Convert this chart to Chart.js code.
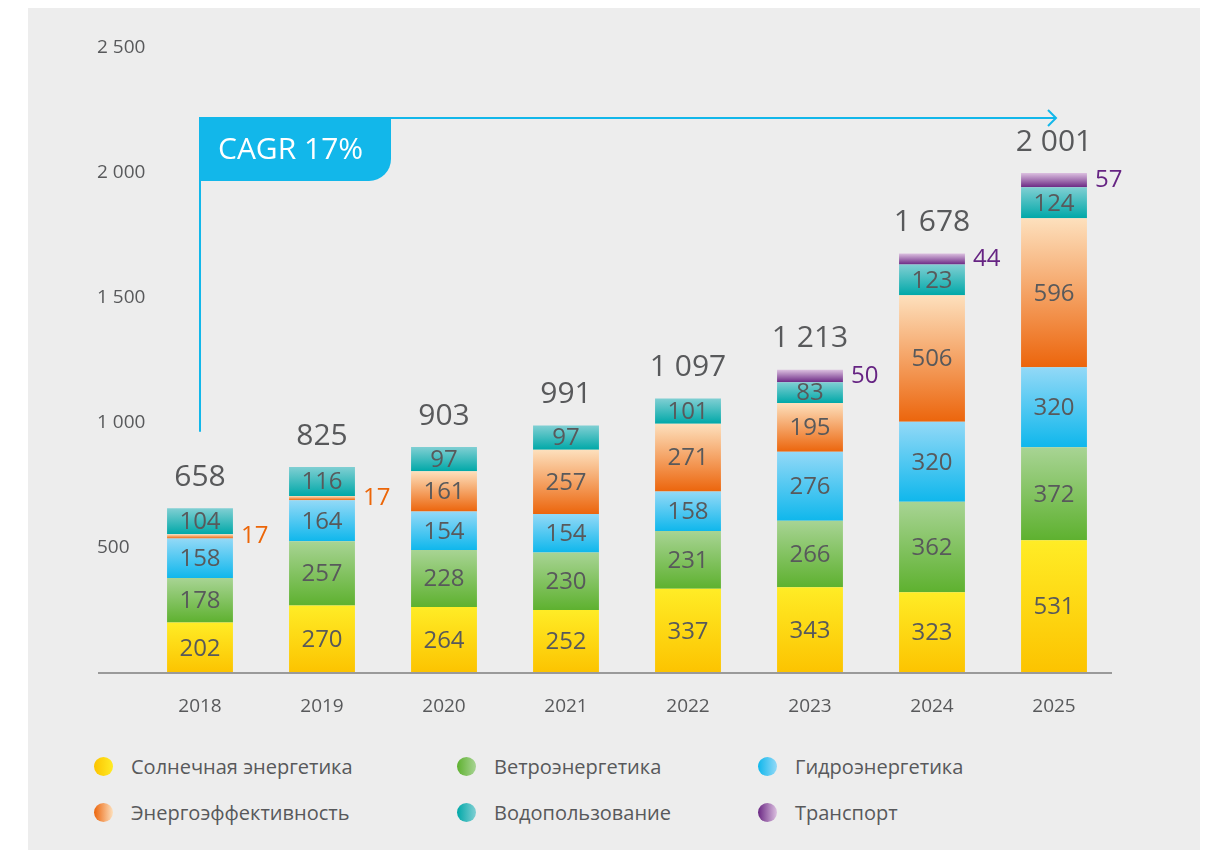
<!DOCTYPE html>
<html lang="ru">
<head>
<meta charset="utf-8">
<script src="https://cdn.jsdelivr.net/npm/chart.js@4"></script>
<style>
  body { margin: 0; background: #fff; font-family: "Open Sans", sans-serif; }
  #panel { position: absolute; left: 28px; top: 8px; width: 1172px; height: 842px; background: #ededed; }
  #wrap { position: absolute; left: 0; top: 0; width: 1172px; height: 725px; }
  #legend { position: absolute; left: 66px; top: 735px; display: grid;
    grid-template-columns: 363px 301px 260px; grid-auto-rows: 46px; }
  .item { display: flex; align-items: center; color: #58595b; font-size: 20px; }
  .dot { width: 19px; height: 19px; border-radius: 50%; margin-right: 18px; flex: none; }
</style>
</head>
<body>
<div id="panel">
  <div id="wrap"><canvas id="chartCagr"></canvas></div>
  <div id="legend"></div>
</div>
<script>
const years = ['2018', '2019', '2020', '2021', '2022', '2023', '2024', '2025'];
const seriesNames = ['Солнечная энергетика', 'Ветроэнергетика', 'Гидроэнергетика',
  'Энергоэффективность', 'Водопользование', 'Транспорт'];
const solar = [202, 270, 264, 252, 337, 343, 323, 531];
const wind = [178, 257, 228, 230, 231, 266, 362, 372];
const hydro = [158, 164, 154, 154, 158, 276, 320, 320];
const efficiency = [17, 17, 161, 257, 271, 195, 506, 596];
const water = [104, 116, 97, 97, 101, 83, 123, 124];
const transport = [0, 0, 0, 0, 0, 50, 44, 57];
const totals = [658, 825, 903, 991, 1097, 1213, 1678, 2001];
const yTicks = [500, 1000, 1500, 2000, 2500];
const cagrLabel = 'CAGR 17%';
const cagrTop = 2220;
const cagrBottom = 965;

// top / bottom colours of every segment gradient
const topColors = ['#ffec26', '#a8d494', '#93d9f7', '#fde0bd', '#80cfd3', '#dcc0e0'];
const bottomColors = ['#fcc300', '#5eb12f', '#0fb7ec', '#ec650c', '#00a8a8', '#6b2884'];
const outsideColors = ['#f0a500', '#5eb12f', '#0fb7ec', '#ec6608', '#00a8a8', '#662483'];
const allSeries = [solar, wind, hydro, efficiency, water, transport];

function fmt(n) {
  return String(n).replace(/\B(?=(\d{3})+(?!\d))/g, ' ');
}

function segmentFill(ctx) {
  const chart = ctx.chart;
  if (!chart.chartArea || ctx.type !== 'data') return bottomColors[ctx.datasetIndex];
  const ds = ctx.datasetIndex, i = ctx.dataIndex;
  let base = 0;
  for (let k = 0; k < ds; k++) base += allSeries[k][i];
  const v = allSeries[ds][i];
  if (!v) return 'rgba(0,0,0,0)';
  const y = chart.scales.y;
  const g = chart.ctx.createLinearGradient(0, y.getPixelForValue(base + v), 0, y.getPixelForValue(base));
  g.addColorStop(0, topColors[ds]);
  g.addColorStop(1, bottomColors[ds]);
  return g;
}

const datasets = allSeries.map((data, k) => ({
  label: seriesNames[k],
  data: data,
  backgroundColor: segmentFill,
  borderWidth: 0,
  barPercentage: 0.54,
  categoryPercentage: 1
}));

const labelsPlugin = {
  id: 'labels',
  afterDatasetsDraw(chart) {
    const c = chart.ctx;
    const x = chart.scales.x, y = chart.scales.y;
    c.save();
    // baseline
    c.strokeStyle = '#9a9a9a';
    c.lineWidth = 2;
    c.beginPath();
    c.moveTo(y.left + 1, y.getPixelForValue(0));
    c.lineTo(chart.chartArea.right - 3, y.getPixelForValue(0));
    c.stroke();

    c.textBaseline = 'middle';
    chart.data.datasets.forEach((d, ds) => {
      const meta = chart.getDatasetMeta(ds);
      meta.data.forEach((bar, i) => {
        const v = d.data[i];
        if (!v) return;
        const cy = (bar.y + bar.base) / 2;
        c.font = '24px "Open Sans"';
        if (v < 60) {
          c.fillStyle = outsideColors[ds];
          c.textAlign = 'left';
          c.fillText(fmt(v), bar.x + bar.width / 2 + 8, cy);
        } else {
          c.fillStyle = '#58595b';
          c.textAlign = 'center';
          c.fillText(fmt(v), bar.x, cy + 1);
        }
      });
    });

    // totals
    c.font = '30px "Open Sans"';
    c.fillStyle = '#58595b';
    c.textAlign = 'center';
    years.forEach((yr, i) => {
      let top = y.getPixelForValue(0);
      chart.data.datasets.forEach((d, ds) => {
        if (d.data[i]) top = Math.min(top, chart.getDatasetMeta(ds).data[i].y);
      });
      c.fillText(fmt(totals[i]), x.getPixelForValue(i), top - 31);
    });

    // CAGR arrow
    const x0 = x.getPixelForValue(0), x1 = x.getPixelForValue(years.length - 1) + 2;
    const yt = y.getPixelForValue(cagrTop), yb = y.getPixelForValue(cagrBottom);
    c.strokeStyle = '#12b7ea';
    c.lineWidth = 2;
    c.beginPath();
    c.moveTo(x0, yb);
    c.lineTo(x0, yt);
    c.lineTo(x1, yt);
    c.stroke();
    c.beginPath();
    c.moveTo(x1 - 8, yt - 8);
    c.lineTo(x1, yt);
    c.lineTo(x1 - 8, yt + 8);
    c.stroke();
    // label box with rounded bottom-right corner
    const bw = 191, bh = 63, r = 22;
    c.fillStyle = '#12b7ea';
    c.beginPath();
    c.moveTo(x0 - 1, yt - 1);
    c.lineTo(x0 + bw, yt - 1);
    c.lineTo(x0 + bw, yt + bh - r);
    c.arcTo(x0 + bw, yt + bh, x0 + bw - r, yt + bh, r);
    c.lineTo(x0 - 1, yt + bh);
    c.closePath();
    c.fill();
    c.fillStyle = '#ffffff';
    c.font = '30px "Open Sans"';
    c.textAlign = 'left';
    c.fillText(cagrLabel, x0 + 18, yt + bh / 2 + 1);
    c.restore();
  }
};

new Chart(document.getElementById('chartCagr'), {
  type: 'bar',
  data: { labels: years, datasets: datasets },
  options: {
    responsive: true,
    maintainAspectRatio: false,
    animation: false,
    layout: { padding: { left: 69, right: 85, top: 40, bottom: 0 } },
    scales: {
      x: {
        stacked: true,
        grid: { display: false, drawTicks: false },
        border: { display: false },
        ticks: { color: '#58595b', padding: 22, font: { family: 'Open Sans', size: 19 } },
        afterFit(axis) { axis.height = 60; }
      },
      y: {
        stacked: true,
        min: 0,
        max: 2500,
        grid: { display: false, drawTicks: false },
        border: { display: false },
        afterBuildTicks(axis) { axis.ticks = yTicks.map(v => ({ value: v })); },
        afterFit(axis) { axis.width = 42; },
        ticks: {
          mirror: true,
          crossAlign: 'near',
          padding: -42,
          color: '#58595b',
          font: { family: 'Open Sans', size: 19 },
          callback: v => fmt(v)
        }
      }
    },
    plugins: { legend: { display: false }, tooltip: { enabled: false } }
  },
  plugins: [labelsPlugin]
});

// legend
const legend = document.getElementById('legend');
seriesNames.forEach((name, k) => {
  const item = document.createElement('div');
  item.className = 'item';
  const dot = document.createElement('span');
  dot.className = 'dot';
  dot.style.background = 'linear-gradient(to right, ' + bottomColors[k] + ', ' + topColors[k] + ')';
  item.appendChild(dot);
  item.appendChild(document.createTextNode(name));
  legend.appendChild(item);
});
</script>
</body>
</html>
